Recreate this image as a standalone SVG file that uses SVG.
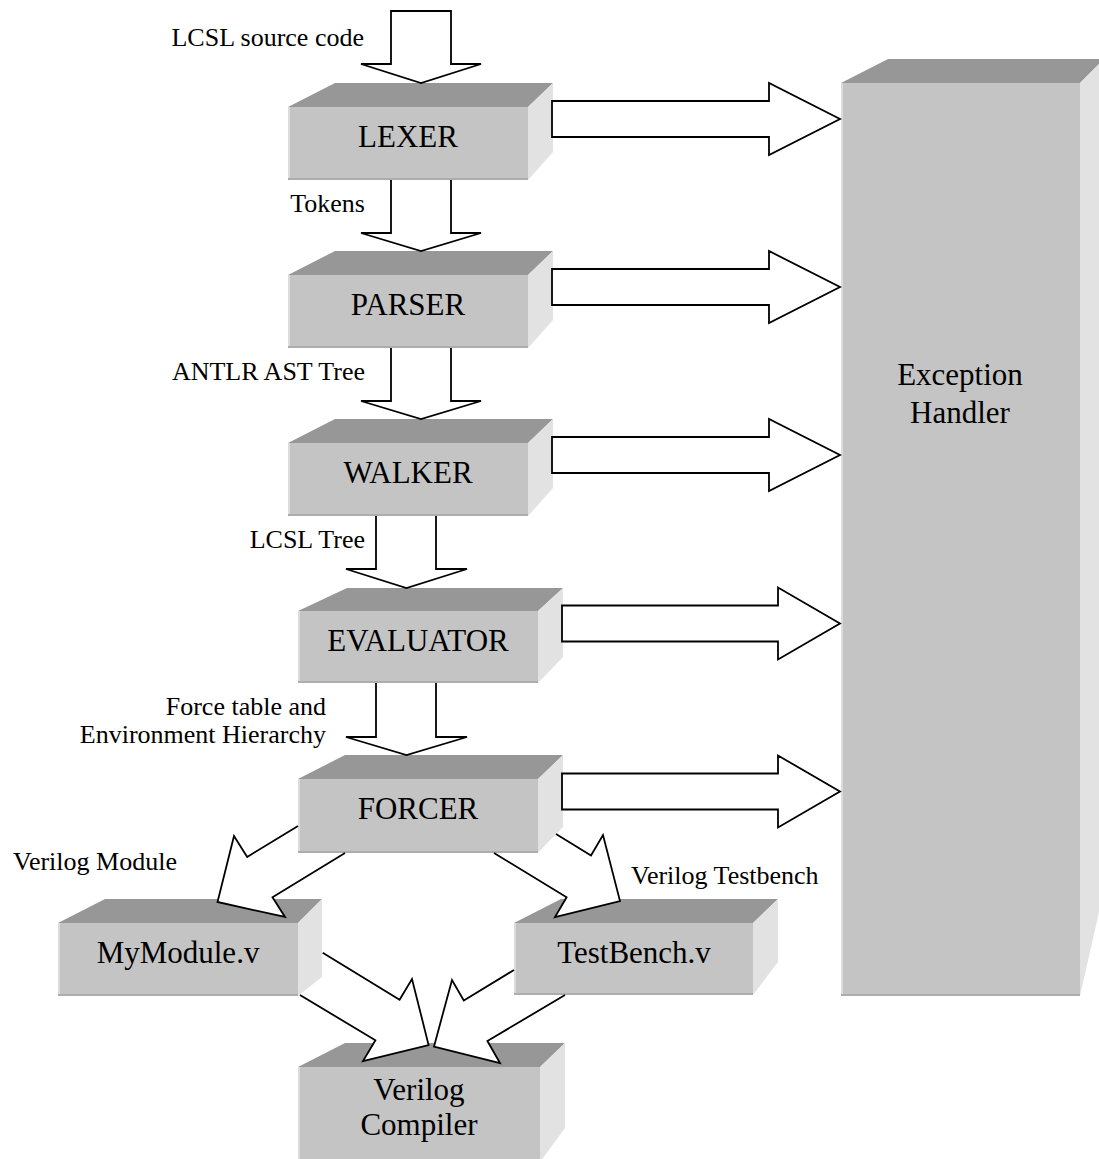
<svg xmlns="http://www.w3.org/2000/svg" width="1099" height="1159" viewBox="0 0 1099 1159">
<style>
.front{fill:#c4c4c4}
.top{fill:#979797}
.side{fill:#e2e2e2}
.hl{stroke:#dcdcdc;stroke-width:2;fill:none}
.sh{stroke:#adadad;stroke-width:2;fill:none}
.nt{font-family:"Liberation Serif","Times New Roman",serif;font-size:31px;text-anchor:middle;fill:#000}
.lb{font-family:"Liberation Serif","Times New Roman",serif;font-size:26px;fill:#000}
.arr{fill:#fff;stroke:#000;stroke-width:1.8;stroke-linejoin:miter}
.af{fill:#fff;stroke:none}
.al{fill:none;stroke:#000;stroke-width:1.8;stroke-linejoin:miter}
</style>
<rect width="1099" height="1159" fill="#fff"/>

<g id="exception-handler">
<polygon class="top" points="841,83 888,59 1104,59 1080,83"/>
<polygon class="side" points="1080,83 1104,59 1104,890 1080,996"/>
<rect class="front" x="841" y="83" width="239" height="913"/>
<line class="hl" x1="842" y1="83" x2="842" y2="996"/>
<line class="sh" x1="841" y1="995" x2="1080" y2="995"/>
<text class="nt" x="960" y="385">Exception</text>
<text class="nt" x="960" y="423">Handler</text>
</g>

<g id="lexer">
<polygon class="top" points="288,107 335,83 553,83 528,107"/>
<polygon class="side" points="528,107 553,83 553,152 528,180"/>
<rect class="front" x="288" y="107" width="240" height="73"/>
<line class="hl" x1="289" y1="107" x2="289" y2="180"/>
<line class="sh" x1="288" y1="179" x2="528" y2="179"/>
<text class="nt" x="408" y="147">LEXER</text>
</g>

<g id="parser">
<polygon class="top" points="288,275 335,251 553,251 528,275"/>
<polygon class="side" points="528,275 553,251 553,320 528,348"/>
<rect class="front" x="288" y="275" width="240" height="73"/>
<line class="hl" x1="289" y1="275" x2="289" y2="348"/>
<line class="sh" x1="288" y1="347" x2="528" y2="347"/>
<text class="nt" x="408" y="315">PARSER</text>
</g>

<g id="walker">
<polygon class="top" points="288,443 335,419 553,419 528,443"/>
<polygon class="side" points="528,443 553,419 553,488 528,516"/>
<rect class="front" x="288" y="443" width="240" height="73"/>
<line class="hl" x1="289" y1="443" x2="289" y2="516"/>
<line class="sh" x1="288" y1="515" x2="528" y2="515"/>
<text class="nt" x="408" y="483">WALKER</text>
</g>

<g id="evaluator">
<polygon class="top" points="298,611 347,588 563,588 538,611"/>
<polygon class="side" points="538,611 563,588 563,657 538,683"/>
<rect class="front" x="298" y="611" width="240" height="72"/>
<line class="hl" x1="299" y1="611" x2="299" y2="683"/>
<line class="sh" x1="298" y1="682" x2="538" y2="682"/>
<text class="nt" x="418" y="651">EVALUATOR</text>
</g>

<g id="forcer">
<polygon class="top" points="298,779 345,755 563,755 538,779"/>
<polygon class="side" points="538,779 563,755 563,827 538,853"/>
<rect class="front" x="298" y="779" width="240" height="74"/>
<line class="hl" x1="299" y1="779" x2="299" y2="853"/>
<line class="sh" x1="298" y1="852" x2="538" y2="852"/>
<text class="nt" x="418" y="819">FORCER</text>
</g>

<g id="mymodule">
<polygon class="top" points="58,923 105,899 322,899 298,923"/>
<polygon class="side" points="298,923 322,899 322,977 298,996"/>
<rect class="front" x="58" y="923" width="240" height="73"/>
<line class="hl" x1="59" y1="923" x2="59" y2="996"/>
<line class="sh" x1="58" y1="995" x2="298" y2="995"/>
<text class="nt" x="178" y="963">MyModule.v</text>
</g>

<g id="testbench">
<polygon class="top" points="514,923 561,899 778,899 753,923"/>
<polygon class="side" points="753,923 778,899 778,962 753,995"/>
<rect class="front" x="514" y="923" width="239" height="72"/>
<line class="hl" x1="515" y1="923" x2="515" y2="995"/>
<line class="sh" x1="514" y1="994" x2="753" y2="994"/>
<text class="nt" x="634" y="963">TestBench.v</text>
</g>

<g id="verilog-compiler">
<polygon class="top" points="298,1067 345,1043 565,1043 540,1067"/>
<polygon class="side" points="540,1067 565,1043 565,1128 540,1162"/>
<rect class="front" x="298" y="1067" width="242" height="95"/>
<line class="hl" x1="299" y1="1067" x2="299" y2="1162"/>
<text class="nt" x="419" y="1100">Verilog</text>
<text class="nt" x="419" y="1135">Compiler</text>
</g>

<g id="connectors">
<path class="arr" d="M391,11 L451,11 L451,64 L481,64 L421,83 L361,64 L391,64 Z"/>
<path class="arr" d="M391,180 L391,233 L361,233 L421,251 L481,233 L451,233 L451,180"/>
<path class="arr" d="M391,348 L391,401 L361,401 L421,419 L481,401 L451,401 L451,348"/>
<path class="arr" d="M376,516 L376,569 L346,569 L406.5,588 L467,569 L436,569 L436,516"/>
<path class="arr" d="M376,683 L376,737 L346,737 L406.5,755 L467,737 L436,737 L436,683"/>
<path class="arr" d="M552,101 L769,101 L769,83 L840,119 L769,155 L769,137 L552,137 Z"/>
<path class="arr" d="M552,269 L769,269 L769,251 L840,287 L769,323 L769,305 L552,305 Z"/>
<path class="arr" d="M552,437 L769,437 L769,419 L840,455 L769,491 L769,473 L552,473 Z"/>
<path class="arr" d="M562,605.5 L778,605.5 L778,587.5 L840,623.5 L778,659.5 L778,641.5 L562,641.5 Z"/>
<path class="arr" d="M562,773.5 L778,773.5 L778,755.5 L840,791.5 L778,827.5 L778,809.5 L562,809.5 Z"/>
<path class="af" d="M298,826 L247.2,856.9 L234,836 L217.5,902 L285,917 L272.5,897.2 L345,853 L298,853 Z"/>
<path class="al" d="M298,826 L247.2,856.9 L234,836 L217.5,902 L285,917 L272.5,897.2 L345,853"/>
<path class="af" d="M556,834 L591,855.5 L603,835 L620,901 L555,917 L566.6,897.2 L494,853 L538,853 Z"/>
<path class="al" d="M556,834 L591,855.5 L603,835 L620,901 L555,917 L566.6,897.2 L494,853"/>
<path class="af" d="M322.7,952.7 L399.6,999.8 L412,979 L428.6,1045 L363,1061 L375.4,1040.3 L300,995 L322,977 Z"/>
<path class="al" d="M322.7,952.7 L399.6,999.8 L412,979 L428.6,1045 L363,1061 L375.4,1040.3 L300,995"/>
<path class="af" d="M514,970 L463.8,1000.4 L452,980 L434,1046.5 L500,1063 L487.4,1041 L565,995 L514,995 Z"/>
<path class="al" d="M514,970 L463.8,1000.4 L452,980 L434,1046.5 L500,1063 L487.4,1041 L565,995"/>
</g>

<g id="labels">
<text class="lb" x="364" y="46" text-anchor="end">LCSL source code</text>
<text class="lb" x="365" y="212" text-anchor="end">Tokens</text>
<text class="lb" x="365" y="380" text-anchor="end">ANTLR AST Tree</text>
<text class="lb" x="365" y="548" text-anchor="end">LCSL Tree</text>
<text class="lb" x="326" y="715" text-anchor="end">Force table and</text>
<text class="lb" x="326" y="743" text-anchor="end">Environment Hierarchy</text>
<text class="lb" x="13" y="870">Verilog Module</text>
<text class="lb" x="631" y="884">Verilog Testbench</text>
</g>
</svg>
